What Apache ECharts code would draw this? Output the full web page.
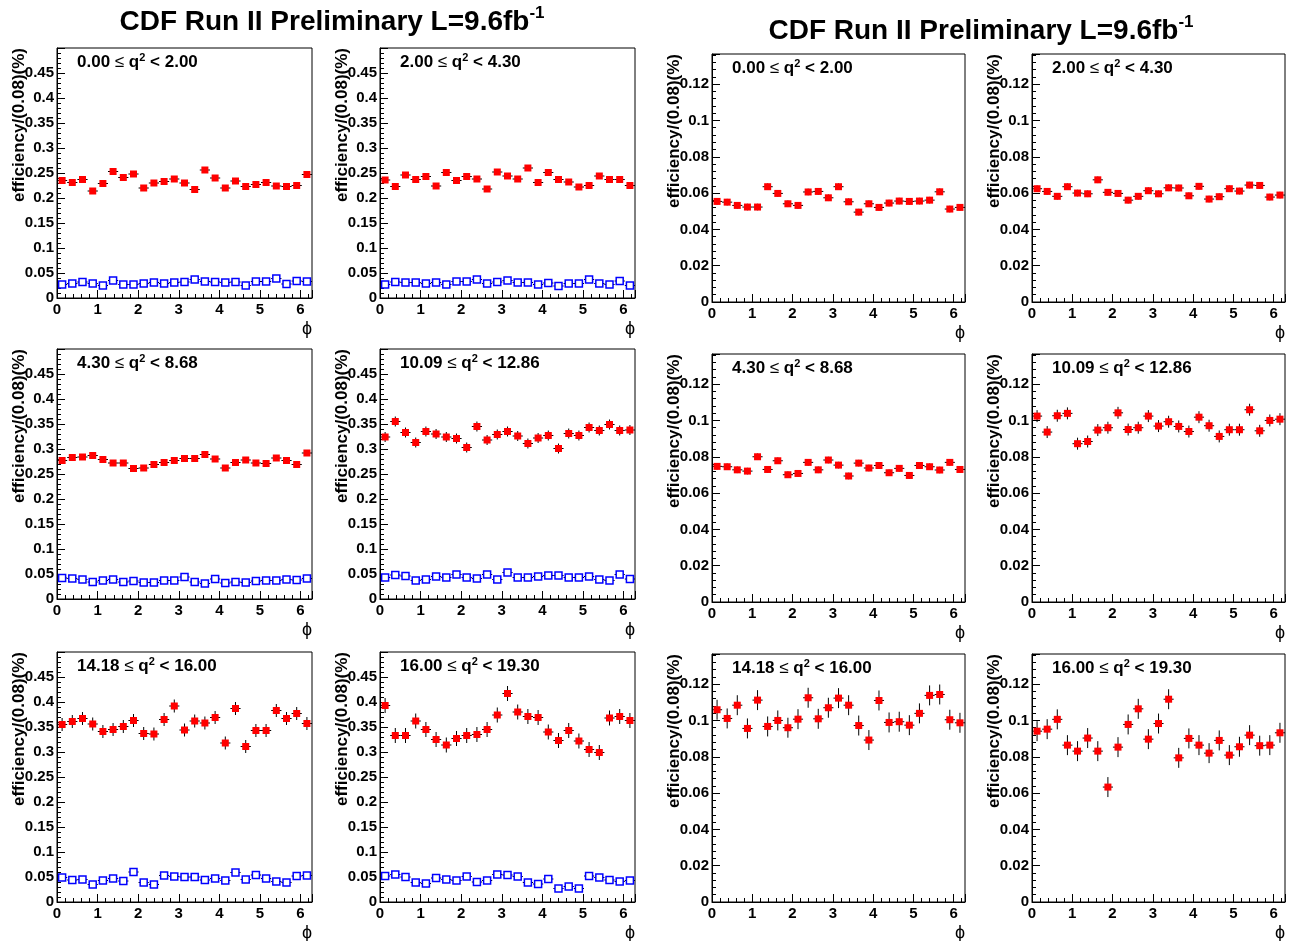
<!DOCTYPE html>
<html>
<head>
<meta charset="utf-8">
<script src="https://cdn.jsdelivr.net/npm/echarts@6/dist/echarts.min.js"></script>
<style>
  html, body { margin: 0; padding: 0; background: #fff; }
  #chart { width: 1292px; height: 941px; }
</style>
</head>
<body>
<div id="chart"></div>
<script>
// phi bin centres (25 bins over 0..2pi) and half bin width
const phiCenters = [0.126, 0.377, 0.628, 0.880, 1.131, 1.382, 1.634, 1.885, 2.136, 2.388, 2.639, 2.890,
  3.142, 3.393, 3.644, 3.896, 4.147, 4.398, 4.650, 4.901, 5.152, 5.404, 5.655, 5.906, 6.158];
const binHalfWidth = 0.1257;
const PHI_MAX = 6.2832;

// q^2 bin edges shown in each panel
const q2Low  = ['0.00', '2.00', '4.30', '10.09', '14.18', '16.00'];
const q2High = ['2.00', '4.30', '8.68', '12.86', '16.00', '19.30'];

// left set: red (filled) and blue (open) efficiencies per q^2 bin
const leftRed1 = [0.235, 0.231, 0.237, 0.214, 0.229, 0.253, 0.241, 0.248, 0.220, 0.230, 0.233, 0.238, 0.230,
  0.217, 0.256, 0.240, 0.220, 0.234, 0.223, 0.227, 0.231, 0.224, 0.223, 0.225, 0.247];
const leftBlue1 = [0.027, 0.029, 0.032, 0.029, 0.025, 0.035, 0.027, 0.027, 0.029, 0.031, 0.029, 0.031, 0.032,
  0.037, 0.033, 0.032, 0.031, 0.032, 0.025, 0.033, 0.033, 0.039, 0.028, 0.034, 0.033];
const leftRed2 = [0.236, 0.223, 0.246, 0.237, 0.243, 0.224, 0.251, 0.235, 0.243, 0.238, 0.218, 0.252, 0.244,
  0.238, 0.260, 0.231, 0.251, 0.237, 0.232, 0.222, 0.225, 0.244, 0.237, 0.237, 0.225];
const leftBlue2 = [0.027, 0.032, 0.031, 0.031, 0.029, 0.031, 0.027, 0.033, 0.033, 0.037, 0.029, 0.032, 0.035,
  0.031, 0.031, 0.027, 0.030, 0.024, 0.029, 0.029, 0.037, 0.029, 0.027, 0.034, 0.025];
const leftRed3 = [0.277, 0.283, 0.284, 0.287, 0.279, 0.272, 0.272, 0.261, 0.262, 0.269, 0.273, 0.277, 0.281,
  0.281, 0.289, 0.280, 0.262, 0.273, 0.278, 0.272, 0.271, 0.282, 0.277, 0.269, 0.292];
const leftBlue3 = [0.042, 0.041, 0.039, 0.034, 0.037, 0.039, 0.034, 0.036, 0.033, 0.033, 0.037, 0.037, 0.044,
  0.034, 0.031, 0.040, 0.032, 0.034, 0.033, 0.036, 0.037, 0.037, 0.039, 0.038, 0.041];
const leftRed4 = [0.324, 0.355, 0.333, 0.313, 0.335, 0.330, 0.324, 0.321, 0.303, 0.345, 0.318, 0.329, 0.335,
  0.326, 0.311, 0.322, 0.327, 0.301, 0.331, 0.327, 0.343, 0.337, 0.349, 0.337, 0.338];
const leftBlue4 = [0.043, 0.048, 0.046, 0.037, 0.039, 0.045, 0.043, 0.049, 0.043, 0.041, 0.049, 0.039, 0.053,
  0.043, 0.043, 0.045, 0.047, 0.047, 0.043, 0.043, 0.045, 0.039, 0.037, 0.049, 0.040];
const leftRed5 = [0.355, 0.361, 0.367, 0.356, 0.341, 0.345, 0.351, 0.363, 0.337, 0.336, 0.365, 0.392, 0.344,
  0.362, 0.358, 0.369, 0.318, 0.387, 0.311, 0.343, 0.343, 0.383, 0.367, 0.377, 0.357];
const leftBlue5 = [0.049, 0.044, 0.045, 0.035, 0.043, 0.047, 0.042, 0.060, 0.039, 0.035, 0.053, 0.051, 0.050,
  0.050, 0.044, 0.047, 0.043, 0.059, 0.045, 0.054, 0.047, 0.041, 0.039, 0.052, 0.053];
const leftRed6 = [0.393, 0.333, 0.333, 0.362, 0.345, 0.325, 0.314, 0.327, 0.333, 0.335, 0.345, 0.374, 0.417,
  0.380, 0.371, 0.369, 0.340, 0.323, 0.343, 0.322, 0.305, 0.299, 0.368, 0.371, 0.363];
const leftBlue6 = [0.052, 0.055, 0.050, 0.039, 0.037, 0.048, 0.045, 0.043, 0.051, 0.040, 0.043, 0.055, 0.054,
  0.051, 0.039, 0.036, 0.046, 0.027, 0.031, 0.027, 0.052, 0.049, 0.044, 0.041, 0.043];

// right set: red efficiencies per q^2 bin
const rightRed1 = [0.0554, 0.0550, 0.0532, 0.0523, 0.0523, 0.0635, 0.0598, 0.0541, 0.0532, 0.0606, 0.0609, 0.0574,
  0.0635, 0.0552, 0.0495, 0.0541, 0.0521, 0.0545, 0.0556, 0.0554, 0.0556, 0.0561, 0.0607, 0.0512, 0.0521];
const rightRed2 = [0.0624, 0.0609, 0.0582, 0.0635, 0.0600, 0.0596, 0.0673, 0.0604, 0.0598, 0.0561, 0.0582, 0.0613,
  0.0596, 0.0629, 0.0628, 0.0585, 0.0637, 0.0567, 0.0580, 0.0624, 0.0611, 0.0644, 0.0642, 0.0578, 0.0589];
const rightRed3 = [0.0747, 0.0745, 0.0728, 0.0721, 0.0800, 0.0730, 0.0778, 0.0701, 0.0708, 0.0769, 0.0728, 0.0782,
  0.0754, 0.0694, 0.0765, 0.0738, 0.0752, 0.0712, 0.0736, 0.0697, 0.0752, 0.0745, 0.0727, 0.0769, 0.0730];
const rightRed4 = [0.1024, 0.0936, 0.1026, 0.1039, 0.0872, 0.0884, 0.0947, 0.0960, 0.1042, 0.0950, 0.0960, 0.1024,
  0.0969, 0.0993, 0.0967, 0.0939, 0.1018, 0.0971, 0.0912, 0.0949, 0.0949, 0.1059, 0.0943, 0.1000, 0.1007];
const rightRed5 = [0.1059, 0.1011, 0.1084, 0.0956, 0.1112, 0.0967, 0.1000, 0.0960, 0.1007, 0.1125, 0.1009, 0.1070,
  0.1123, 0.1084, 0.0972, 0.0892, 0.1110, 0.0989, 0.0993, 0.0974, 0.1039, 0.1138, 0.1143, 0.1004, 0.0987];
const rightRed6 = [0.0941, 0.0952, 0.1006, 0.0864, 0.0831, 0.0903, 0.0831, 0.0633, 0.0853, 0.0978, 0.1064, 0.0897,
  0.0983, 0.1117, 0.0794, 0.0901, 0.0864, 0.0820, 0.0890, 0.0809, 0.0855, 0.0919, 0.0861, 0.0864, 0.0932];

// typical statistical error per panel
const leftRedErr  = [0.006, 0.006, 0.005, 0.010, 0.013, 0.015];
const leftBlueErr = [0.002, 0.002, 0.002, 0.002, 0.003, 0.003];
const rightRedErr = [0.0018, 0.0018, 0.0018, 0.0033, 0.0055, 0.0055];

const yTitle = 'efficiency/(0.08)(%)';
const FONT = '"Liberation Sans", Arial, Helvetica, sans-serif';

// frame layout of the two 2x3 blocks (pixels)
const layout = {
  left:  { cols: [57, 380],  width: 255, rows: [48, 349, 652], height: 250, yMax: 0.5,    yStep: 0.05 },
  right: { cols: [712, 1032], width: 253, rows: [54, 354, 654], height: 248, yMax: 0.1366, yStep: 0.02 }
};

const grids = [], xAxes = [], yAxes = [], series = [], graphics = [];

function errorBars(params, api) {
  const x = api.value(0), y = api.value(1), e = api.value(2);
  const l = api.coord([x - binHalfWidth, y]);
  const r = api.coord([x + binHalfWidth, y]);
  const t = api.coord([x, y + e]);
  const b = api.coord([x, y - e]);
  const st = { stroke: '#000', lineWidth: 1 };
  return {
    type: 'group',
    children: [
      { type: 'line', shape: { x1: l[0], y1: l[1], x2: r[0], y2: r[1] }, style: st },
      { type: 'line', shape: { x1: t[0], y1: t[1], x2: b[0], y2: b[1] }, style: st }
    ]
  };
}

function addPanel(block, panel, sets) {
  const L = layout[block];
  const g = grids.length;
  const col = panel % 2, row = Math.floor(panel / 2);
  const left = L.cols[col], top = L.rows[row];
  grids.push({
    left: left, top: top, width: L.width, height: L.height,
    show: true, borderColor: '#000', borderWidth: 1, backgroundColor: 'transparent',
    containLabel: false
  });
  xAxes.push({
    gridIndex: g, type: 'value', min: 0, max: PHI_MAX, interval: 1,
    axisLine: { show: true, onZero: false, lineStyle: { color: '#000', width: 1 } },
    axisTick: { show: true, inside: true, length: 8, lineStyle: { color: '#000' } },
    minorTick: { show: true, splitNumber: 5, length: 4, lineStyle: { color: '#000' } },
    splitLine: { show: false },
    axisLabel: {
      color: '#000', fontFamily: FONT, fontWeight: 'bold', fontSize: 15, margin: 4,
      formatter: v => (Math.abs(v - Math.round(v)) < 1e-6 ? String(Math.round(v)) : '')
    }
  });
  const step = L.yStep;
  yAxes.push({
    gridIndex: g, type: 'value', min: 0, max: L.yMax, interval: step,
    axisLine: { show: true, onZero: false, lineStyle: { color: '#000', width: 1 } },
    axisTick: { show: true, inside: true, length: 8, lineStyle: { color: '#000' } },
    minorTick: { show: true, splitNumber: 5, length: 4, lineStyle: { color: '#000' } },
    splitLine: { show: false },
    axisLabel: {
      color: '#000', fontFamily: FONT, fontWeight: 'bold', fontSize: 15, margin: 3,
      showMaxLabel: false,
      formatter: v => {
        const k = v / step;
        if (Math.abs(k - Math.round(k)) > 1e-6) return '';
        return String(+v.toFixed(4));
      }
    }
  });

  sets.forEach(s => {
    series.push({
      type: 'custom', xAxisIndex: g, yAxisIndex: g, renderItem: errorBars,
      encode: { x: 0, y: 1 }, silent: true, animation: false,
      data: phiCenters.map((x, i) => [x, s.values[i], s.err])
    });
    series.push({
      type: 'scatter', xAxisIndex: g, yAxisIndex: g, symbol: 'rect',
      symbolSize: 7, silent: true, animation: false,
      itemStyle: s.open
        ? { color: '#fff', borderColor: '#0000ff', borderWidth: 1.5, opacity: 1 }
        : { color: '#ff0000', opacity: 1 },
      data: phiCenters.map((x, i) => [x, s.values[i]])
    });
  });

  // axis title, phi label and q^2 range text
  graphics.push({
    type: 'text', x: left - 38, y: top, rotation: Math.PI / 2,
    style: { text: yTitle, font: 'bold 17px ' + FONT, fill: '#000', align: 'right', verticalAlign: 'middle' }
  });
  graphics.push({
    type: 'text', x: left + L.width - 5, y: top + L.height + 31,
    style: { text: 'ϕ', font: '18px ' + FONT, fill: '#000', align: 'center', verticalAlign: 'middle' }
  });
  graphics.push({
    type: 'text', x: left + 20, y: top + 14,
    style: {
      text: '{a|' + q2Low[panel] + ' }{b|≤}{a| q}{s|2}{a| < ' + q2High[panel] + '}',
      align: 'left', verticalAlign: 'middle',
      rich: {
        a: { font: 'bold 17px ' + FONT, fill: '#000', lineHeight: 20 },
        b: { font: '17px ' + FONT, fill: '#000', lineHeight: 20 },
        s: { font: 'bold 11px ' + FONT, fill: '#000', lineHeight: 12, verticalAlign: 'top' }
      }
    }
  });
}

const leftRed = [leftRed1, leftRed2, leftRed3, leftRed4, leftRed5, leftRed6];
const leftBlue = [leftBlue1, leftBlue2, leftBlue3, leftBlue4, leftBlue5, leftBlue6];
const rightRed = [rightRed1, rightRed2, rightRed3, rightRed4, rightRed5, rightRed6];

for (let p = 0; p < 6; p++) {
  addPanel('left', p, [
    { values: leftRed[p], err: leftRedErr[p], open: false },
    { values: leftBlue[p], err: leftBlueErr[p], open: true }
  ]);
}
for (let p = 0; p < 6; p++) {
  addPanel('right', p, [{ values: rightRed[p], err: rightRedErr[p], open: false }]);
}

// block titles
function titleText(cx, cy) {
  return {
    type: 'text', x: cx, y: cy,
    style: {
      text: '{t|CDF Run II Preliminary L=9.6fb}{s|-1}',
      align: 'center', verticalAlign: 'middle',
      rich: {
        t: { font: 'bold 28px ' + FONT, fill: '#000', lineHeight: 34 },
        s: { font: 'bold 17px ' + FONT, fill: '#000', lineHeight: 18, verticalAlign: 'top' }
      }
    }
  };
}
graphics.push(titleText(332, 22));
graphics.push(titleText(981, 31));

const chart = echarts.init(document.getElementById('chart'), null, { renderer: 'canvas' });
chart.setOption({
  animation: false,
  backgroundColor: '#fff',
  grid: grids,
  xAxis: xAxes,
  yAxis: yAxes,
  series: series,
  graphic: graphics
});
</script>
</body>
</html>
